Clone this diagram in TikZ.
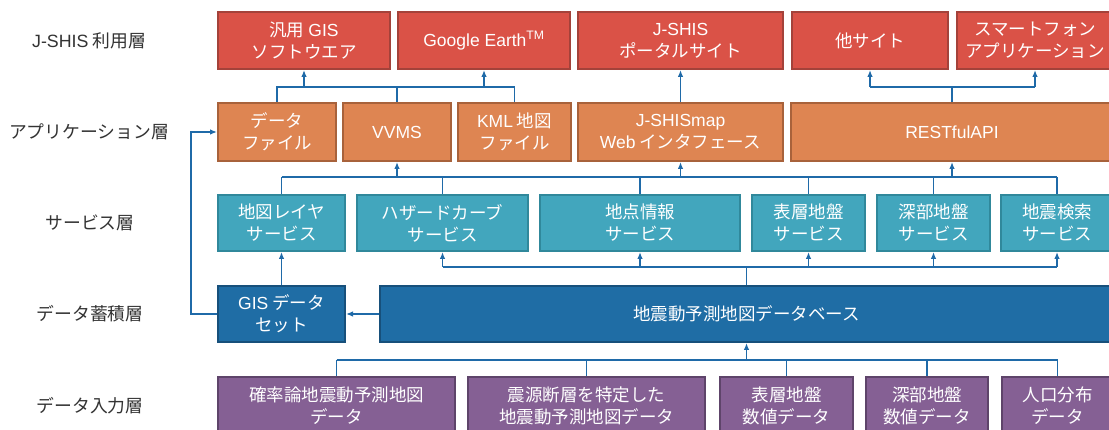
\documentclass[tikz,border=0pt]{standalone}
\usepackage{fontspec}
\setmainfont{Noto Sans CJK JP}
\newfontfamily\latn{Liberation Sans}
\usetikzlibrary{arrows.meta}
\definecolor{redF}{HTML}{DA5247}
\definecolor{redD}{HTML}{A4423A}
\definecolor{oraF}{HTML}{DE8552}
\definecolor{oraD}{HTML}{A8623B}
\definecolor{tealF}{HTML}{42A6BD}
\definecolor{tealD}{HTML}{30889B}
\definecolor{blueF}{HTML}{1F6DA5}
\definecolor{blueD}{HTML}{17507B}
\definecolor{purF}{HTML}{856094}
\definecolor{purD}{HTML}{5E446A}
\definecolor{lnk}{HTML}{1F6AA8}
\definecolor{lbl}{HTML}{333333}
\begin{document}
\begin{tikzpicture}[x=1pt,y=-1pt,
  box/.style={draw, line width=2.2pt, inner sep=0pt, align=center, text=white,
    font=\fontsize{17.5}{22}\selectfont},
  sz/.style 2 args={minimum width={#1pt-2.2pt}, minimum height={#2pt-2.2pt}},
  rbox/.style={box, fill=redF, draw=redD},
  obox/.style={box, fill=oraF, draw=oraD},
  tbox/.style={box, fill=tealF, draw=tealD},
  bbox/.style={box, fill=blueF, draw=blueD},
  pbox/.style={box, fill=purF, draw=purD},
  lab/.style={text=lbl, font=\fontsize{17.8}{22}\selectfont, inner sep=0pt},
  ln/.style={draw=lnk, line width=1.3pt},
  arr/.style={ln, -{Latex[length=7pt,width=5.5pt]}}]
\useasboundingbox (0,0) rectangle (1109,430);
\fill[white] (0,0) rectangle (1109,430);
\clip (0,0) rectangle (1109,430);

% layer labels
\node[lab] (L1) at (89,40.5) {{\latn J-SHIS} 利用層};
\node[lab] (L2) at (89,132) {アプリケーション層};
\node[lab] (L3) at (90,223) {サービス層};
\node[lab] (L4) at (90,314) {データ蓄積層};
\node[lab] (L5) at (90,406) {データ入力層};

% row 1
\node[rbox,sz={174}{59}] (r1) at (304,40.5) {汎用 {\latn GIS}\\ソフトウエア};
\node[rbox,sz={174}{59}] (r2) at (484,40.5) {{\latn Google Earth\textsuperscript{TM}}};
\node[rbox,sz={207}{59}] (r3) at (680.5,40.5) {{\latn J-SHIS}\\ポータルサイト};
\node[rbox,sz={158}{59}] (r4) at (870,40.5) {他サイト};
\node[rbox,sz={158}{59}] (r5) at (1035,40.5) {スマートフォン\\アプリケーション};

% row 2
\node[obox,sz={120}{60}] (a1) at (277,132) {データ\\ファイル};
\node[obox,sz={110}{60}] (a2) at (397,132) {{\latn VVMS}};
\node[obox,sz={115}{60}] (a3) at (514.5,132) {{\latn KML} 地図\\ファイル};
\node[obox,sz={207}{60}] (a4) at (680.5,132) {{\latn J-SHISmap}\\{\latn Web} インタフェース};
\node[obox,sz={324}{60}] (a5) at (952,132) {{\latn RESTfulAPI}};

% row 3
\node[tbox,sz={129}{58}] (s1) at (281.5,223) {地図レイヤ\\サービス};
\node[tbox,sz={173}{58}] (s2) at (442.5,223) {ハザードカーブ\\サービス};
\node[tbox,sz={202}{58}] (s3) at (640,223) {地点情報\\サービス};
\node[tbox,sz={115}{58}] (s4) at (808.5,223) {表層地盤\\サービス};
\node[tbox,sz={115}{58}] (s5) at (933.5,223) {深部地盤\\サービス};
\node[tbox,sz={114}{58}] (s6) at (1057,223) {地震検索\\サービス};

% row 4
\node[bbox,sz={129}{58}] (d1) at (281.5,314) {{\latn GIS} データ\\セット};
\node[bbox,sz={735}{58}] (d2) at (746.5,314) {地震動予測地図データベース};

% row 5
\node[pbox,sz={239}{60}] (i1) at (336.5,406) {確率論地震動予測地図\\データ};
\node[pbox,sz={239}{60}] (i2) at (586.5,406) {震源断層を特定した\\地震動予測地図データ};
\node[pbox,sz={135}{60}] (i3) at (786.5,406) {表層地盤\\数値データ};
\node[pbox,sz={124}{60}] (i4) at (927,406) {深部地盤\\数値データ};
\node[pbox,sz={113}{60}] (i5) at (1057.5,406) {人口分布\\データ};

% bus levels
\coordinate (y1) at (0,87);
\coordinate (y2) at (0,177);
\coordinate (y3) at (0,267);
\coordinate (y4) at (0,360);
\coordinate (lp) at (191,0);

% row 2 -> row 1
\draw[ln] (a1.north) -- (a1.north |- y1) -- (a3.north |- y1) -- (a3.north);
\draw[ln] (a2.north) -- (a2.north |- y1);
\draw[arr] (r1.south |- y1) -- (r1.south);
\draw[arr] (r2.south |- y1) -- (r2.south);
\draw[arr] (a4.north) -- (r3.south);
\draw[ln] (a5.north) -- (a5.north |- y1);
\draw[ln] (r4.south |- y1) -- (r5.south |- y1);
\draw[arr] (r4.south |- y1) -- (r4.south);
\draw[arr] (r5.south |- y1) -- (r5.south);

% row 3 -> row 2
\draw[ln] (s1.north |- y2) -- (s6.north |- y2);
\foreach \s in {s1,s2,s3,s4,s5,s6} \draw[ln] (\s.north) -- (\s.north |- y2);
\foreach \a in {a2,a4,a5} \draw[arr] (\a.south |- y2) -- (\a.south);

% row 4 -> row 3
\draw[arr] (d1.north) -- (s1.south);
\draw[ln] (d2.north) -- (d2.north |- y3);
\draw[ln] (s2.south |- y3) -- (s6.south |- y3);
\foreach \s in {s2,s3,s4,s5,s6} \draw[arr] (\s.south |- y3) -- (\s.south);
\draw[arr] (d2.west) -- (d1.east);
\draw[arr] (d1.west) -- (d1.west -| lp) -- (a1.west -| lp) -- (a1.west);

% row 5 -> row 4
\draw[ln] (i1.north |- y4) -- (i5.north |- y4);
\foreach \i in {i1,i2,i3,i4,i5} \draw[ln] (\i.north) -- (\i.north |- y4);
\draw[arr] (d2.south |- y4) -- (d2.south);
\end{tikzpicture}
\end{document}
